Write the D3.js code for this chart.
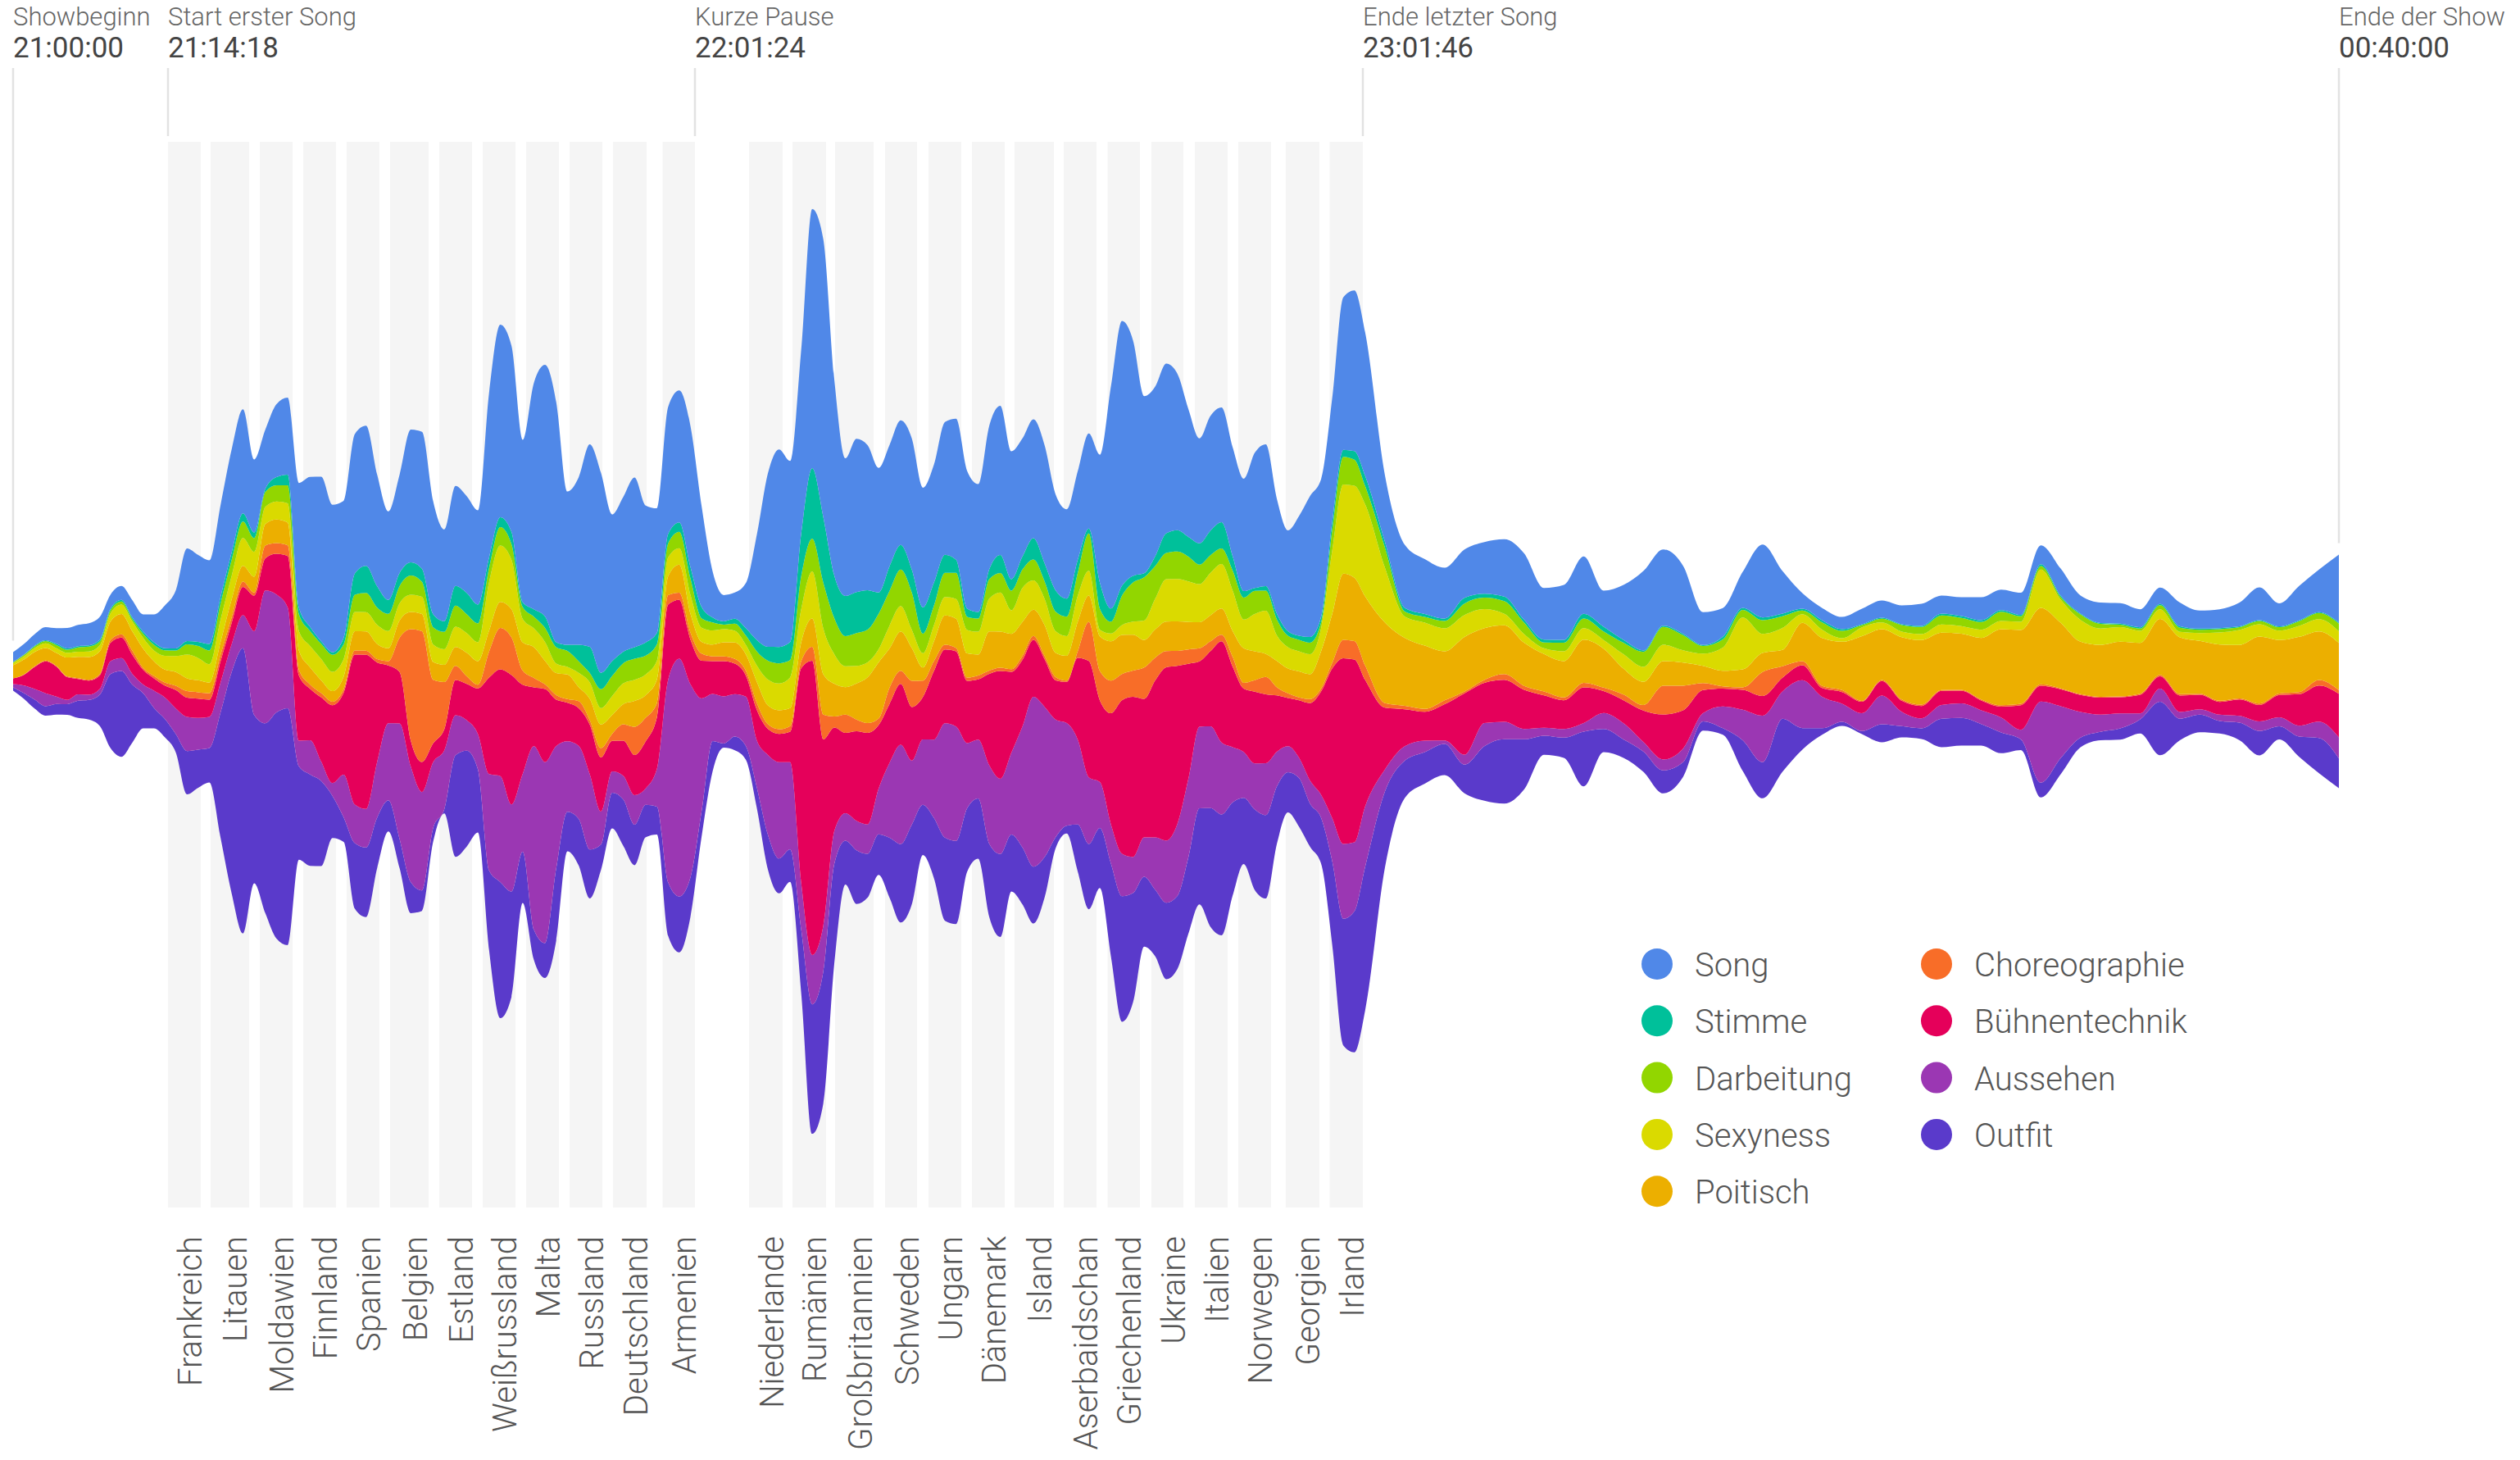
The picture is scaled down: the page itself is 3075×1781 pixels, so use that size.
<!DOCTYPE html>
<html>
<head>
<meta charset="utf-8">
<script src="https://d3js.org/d3.v7.min.js"></script>
<style>
html,body{margin:0;padding:0;background:#fff;}
svg{display:block;font-family:Roboto,"Noto Sans",sans-serif;}
</style>
</head>
<body>
<svg id="chart" width="3075" height="1781"></svg>
<script>
// ---------- DATA ----------
// sample times, minutes after 21:00
const minutes = [0,1,2,3,4,5,6,7,8,9,10,11,12,13,14,15,16,17,18,19,20,21,22,23,24,25,26,27,28,29,30,31,32,33,34,35,36,37,38,39,40,41,42,43,44,45,46,47,48,49,50,51,52,53,54,55,56,57,58,59,60,61,62,63,64,65,66,67,68,69,70,71,72,73,74,75,76,77,78,79,80,81,82,83,84,85,86,87,88,89,90,91,92,93,94,95,96,97,98,99,100,101,102,103,104,105,106,107,108,109,110,111,112,113,114,115,116,117,118,119,120,121,
122,124,126,128,130,132,134,136,138,140,142,144,146,148,150,152,154,156,158,160,162,164,166,168,170,172,174,176,178,180,182,184,186,188,190,192,194,196,198,200,202,204,206,208,210,212,214,216,218,220];

const song = [12,13,14,16,19,25,26,27,28,17,
17,21,21,34,52,71,113,106,102,112,
126,127,89,72,89,94,152,183,201,180,
167,170,171,136,108,120,162,167,138,112,
122,118,115,201,235,227,198,276,307,293,
187,204,247,244,179,189,207,167,152,155,
161,172,123,56,32,32,55,129,212,241,
221,224,316,339,239,168,187,177,152,148,
152,160,146,144,162,172,168,156,175,182,
156,144,145,144,117,109,108,116,156,271,
323,287,216,207,207,191,156,128,140,140,
133,137,165,173,140,123,146,172,168,151,
186,196,
175,81,77,67,62,59,63,70,81,63,67,70,44,67,97,93,83,40,35,44,89,52,19,15,15,19,21,23,27,22,23,28,25,27,23,33,22,25,25,22,20,29,22,23,29,40,28,42,52,83];

const stimme = [0.5,0.5,1,1,1.6,1.6,1.6,1.6,2,2,
2,2,2.6,3,2.6,2.6,4,5,8,8,
9,10,7,4,10,13,8,5,3,3,
8,26,33,26,17,16,16,16,16,13,
24,26,23,13,12,15,6,9,14,6,
7.5,20,32,20,18,14,14,16,14,11.5,
11.5,14,14,6,4,6,9,14,17,20,
22,52,86,80,52,49,50,48,26,30,
30,28,32,28,22,16,10,8,12,22,
14,16,26,22,26,22,16,6,32,16,
12,8,5,12,24,26,24,26,30,32,
17.5,8,3.5,5.6,7,5.6,5,7,7,10.5,
8.4,10.5,
12.6,7,4.2,3.5,2.8,7,4.9,5.6,3.5,3.5,3.5,5.6,5.6,3.5,1.7,1.7,1.7,1.3,3.3,2.3,3.3,3.3,2.3,2.7,2,1,1.3,1,1.3,2.3,2.3,2.3,2,1.7,2.3,1.7,1,1,1.3,1.7,1.7,1.7,1.3,1.3,1,1,1,1,1,1.3];

const darbeitung = [1,1.6,2,2.6,3.7,3.7,5.2,5.8,4.7,3.7,
3.7,3,5,7,6.8,6.8,12.6,14.6,16.7,19.9,
19.4,19.9,16.7,18.3,19.9,22,20.9,18.3,18.3,20.9,
18.3,21,23.5,21,21,21,23.5,18.3,21.2,21.2,
25.8,23,23,17.2,22.4,19,14.4,14.4,17.2,20,
19.5,14.4,11.5,23,24.7,24.7,25.8,23,20,17.2,
20,20,11.5,9.8,5.7,8.6,11.5,17.2,23,24.7,
21.2,40.2,40.2,55.8,43.9,36.7,39.9,39.9,43.1,42.3,
44.7,45.5,23.9,23.9,29.5,31.9,15.9,16,23.9,23.9,
23.9,22.3,25.5,21.5,23.9,23.9,27.9,45.5,25.5,14.4,
35.9,47.8,52.6,39.9,31.9,33.5,30.3,23.9,21.5,19.1,
24.6,26.7,28.1,24.6,19.6,14,14,14,7,24.6,
33.7,31.6,
22.5,24.6,6.3,7,9.1,14,14,15.4,14,7,10.5,11.9,10.5,14,18.3,21.7,18.3,9.3,10,9.3,16.7,14.3,4.3,9,9,2.7,4.3,8,8.7,11,10,9.3,11.3,6.7,4.3,3.3,6.7,5.7,3,2.7,5,5,4,4,3.3,4,4.3,5.7,7.3,9.3];

const sexyness = [2.5,3.7,4.7,5.8,5.8,5.8,6.3,6.8,7.3,10,
11.5,12,13,13,16.7,19.4,28.8,27.2,22.5,27.2,
28.8,34,30.3,20.9,22,23.5,23.5,26,26,23.5,
20.9,23.5,23.5,23.5,21,21,21,21,21.2,19,
24.7,24,23,59,68.9,60.3,28.7,23,23,11.5,
9.2,17.2,20,20,23,25.3,25.8,25.3,23,23,
20,23,17.2,17.2,16,14.4,11.5,20,31.6,32.7,
37.3,40.2,57.4,55.8,35.9,25.5,21.5,18.3,16,27.9,
31.1,22.3,17.5,19.9,22.3,23.9,28.7,27.9,39.9,47.8,
28.7,41.5,35.9,31.9,26.3,23.9,31.9,30.3,8,9.6,
12,15.9,23.9,37.5,51.8,51.8,49.4,46.3,51.8,54.2,
49.1,35.1,45.6,52.6,30.9,26,24.6,24.6,28.1,77.2,
108.8,112.3,
112.3,66.7,26,28.1,28.1,26.7,23.2,14,10.5,7,11.9,14,10.5,17.5,18.3,20,15,15,28.3,63.3,23.3,26.7,10.7,10,4.3,10.7,8.3,6.7,7.3,10,9.3,10,10,10,46.7,28.3,26.7,20,17.7,14.7,11.7,6.7,9.7,14.7,18.3,15,11.3,13.3,15,14];

const poitisch = [16,18.3,17.3,15.2,15.7,23,26,27.7,27.7,22.5,
24.6,23.5,23.5,18,15.7,16.7,15.7,14.6,13,15.7,
22,19.4,19.4,26.2,28.8,27.7,23.5,20.9,15.7,13,
15.7,23.5,23.5,18.3,15.7,21,21,21,21.8,21.2,
23,28.7,28.7,25.8,31.6,34.4,34.4,37.3,28.7,27,
29.9,17.2,25.8,28.7,23,24.7,31.6,27.6,28.7,23,
34.4,23,14.4,14.4,17.2,20,20,25.8,23,23,
21.8,23,34.4,49.4,39.9,33.5,43.9,55.8,68.6,47.8,
47.8,39.9,16,23.9,35.9,35.9,29.5,25.5,47.8,43.9,
43.1,41.5,31.9,37.5,29.5,30.3,35.9,31.9,42.3,47.8,
47.8,43.9,33.5,34.3,35.9,35.9,33.5,31.9,31.9,31.9,
31.6,42.1,35.1,28.1,32.3,30.2,31.6,30.2,45.6,59.6,
80.7,77.2,
84.2,98.2,82.8,77.2,59.6,66.7,63.2,59.6,52.6,45.6,44.2,52.6,47.7,31.6,28.3,30,28.3,21,19,22,23.3,20,46.7,58.3,59,79,62,76,78.7,70,68.3,75,92.7,90,93.3,80,64,63.3,66.7,62,68.3,69.3,64.3,68.7,65.3,81.7,65.3,67.3,59.3,57.7];

const choreographie = [0,0.5,1,1,1,1,1,1,1.6,3.7,
4.2,5,2.6,3,3.7,5.2,7.8,7.8,7.8,7.8,
6.8,6.3,3.7,15.7,13,13,6.8,5.2,5.2,4.2,
4.2,5.2,5.2,4.2,5.2,41.8,136,159.5,77.5,57.4,
17.2,9.2,4.6,31.6,50.5,45.9,17.2,11.5,5.7,5.7,
4.6,8.6,5.7,11.5,8.6,20,34.4,28.7,17.2,11.5,
8.6,8.6,8.6,5.7,5.7,5.7,5.7,8.6,5.7,5.7,
6.9,8.6,17.2,30.3,13.6,22.3,14.4,12,8,19.9,
16,31.9,19.9,12,5.6,4,4,4.8,4,4,
3.2,4.8,4.8,4,4,1.6,8,47.8,35.9,39.9,
31.9,31.9,38.3,27.9,19.9,18.3,17.5,15.9,12,8,
11.9,7,14,21.1,9.8,5.6,3.5,4.9,3.5,7,
22.5,22.5,
17.5,5.6,4.2,3.5,4.9,2.1,3.5,7,4.9,4.9,3.5,5.6,4.2,7,6.7,35,30,8.3,2.7,3,29.3,14,5,2.7,2.3,1,1.3,1.7,1.7,1,1,1.3,1.7,1.7,1.7,1,1,1,1,1.3,1.7,1.7,1.3,1.3,1.3,1.7,1.7,2.7,6.7,4.3];

const buehnentechnik = [7,13,27,39,36.6,27.7,18.8,17.3,16.7,22.5,
25,23.5,18,15,14.6,22.5,23.5,23.5,21,26,
26,34.5,43.4,39.2,49.7,62.8,79.5,62.8,78.5,95,
100,183,188,121,70.6,62.8,31.4,36.6,23,25.8,
43,44.2,55.7,117.7,130.3,157.9,109,71.8,89,56.3,
47,46,60.3,66,37.3,43,48.8,57.4,63.1,91.8,
71.8,54.5,46,40.2,43,37.3,25.8,37.3,31.6,34.4,
37.3,261.2,358.8,227.3,126,98,109.3,111.6,77.4,71.8,
74.2,65.4,51.8,83.7,90.1,91.7,75.8,73.4,111.6,131.6,
98.9,81.3,69.4,58.2,47.8,50.2,99.7,141.9,99.7,135.6,
187.4,195.4,169,191.4,211.3,193,140.4,79.7,91.7,123.6,
98.2,77.2,87.7,84.2,68.8,58.9,70.2,94.7,126.3,182.5,
226.7,223.2,
154.4,75.1,44.9,35.1,44.2,75.1,49.1,51.2,47.7,39.3,35.1,43.5,26.7,28.1,38.3,55,46.7,28.3,21.7,24.3,24,16.7,18.3,10.7,14.3,14,17.7,13.3,15,17.3,15.7,12,13.3,30,19.3,20.7,20.7,20.7,19.7,22.7,15,20,17.7,15.7,20,20,27.3,38.3,44,53.3];

const aussehen = [4,9.4,13,15.7,8.9,5.2,7.8,6.3,6.8,15.7,
15.7,13,10.5,21,26,31.4,41.8,38.7,38,36.6,
34,40.3,102,162,143.8,123,31.4,41.8,23.5,15.7,
52,47,47,68,94,141,141,120,80.4,71.8,
48.8,37.3,43,117.7,129.2,106.2,94.7,223.9,221,149.3,
86,89,91.8,40.2,25.8,28.7,36.2,20,45.9,246.8,
290,235.4,137.8,57.4,57.4,51.7,60.3,57.4,97.6,117.7,
106.2,57.4,60.3,55.8,39.9,33.5,35.9,35.9,55.8,91.7,
121.2,78.1,79.7,95.7,139.6,139.6,79.7,71.8,95.7,91.7,
99.7,147.5,207.3,183.4,143.5,125.2,103.7,81.3,55.8,47.8,
51.8,43.9,47.8,63.8,75.8,87.7,95.7,99.7,99.7,87.7,
67.4,56.1,56.1,63.2,42.1,31.6,24.6,28.1,28.1,52.6,
91.2,84.2,
73.7,26.7,17.5,14,4.2,11.9,28.1,21.1,12.6,9.8,10.5,10.5,19.6,19.6,11.7,13.3,16.7,10,26.7,37.3,56.7,33.3,58.3,38.3,22,21.7,35,17.7,12.3,16.7,17.7,16.7,18.3,11.7,99,63.3,31.3,21,18.3,7.3,16,8.3,6.7,7.7,8.3,11.7,11,13.3,20,25.7];

const outfit = [4,6.8,11,11.5,13,13,21,24,38,90.5,
104.6,71,43,25,22.5,22.5,52.8,46.5,42,153,
271,348,205.6,231.7,276,289,114,111.4,103.6,51.3,
30,80,85,61.7,38,35.6,38,25,16.6,5.2,
124,117,77,97,166,128.6,62.6,36.7,42.5,88.4,
48.2,56.8,59.7,31,43.6,56.8,49.4,39.6,33.9,65.4,
68.3,48.2,31,36.7,5.2,16.6,16.6,25.3,42.5,42.5,
39.6,76.9,157.9,161,121.2,53.4,65.4,53.4,49.4,73.4,
95.7,97.3,61.4,73.4,101.3,101.3,77.4,73.4,89.3,101.3,
69.4,69.4,69.4,49.4,13.6,9.6,57.4,79.7,73.4,113.2,
153.1,133.2,85.3,81.3,93.3,89.3,93.3,117.2,145.1,147.5,
113.7,80.7,98.2,101.8,70.2,49.1,59.6,52.6,56.1,101.8,
154.4,171.9,
175.4,92.6,45.6,38.6,37.9,35.1,66.7,78.6,61.1,23.2,24.6,66.7,28.1,22.5,24.7,28,18,11.3,8,37.3,44,64.7,26.3,8,5,3.7,22,13.7,13,34.7,33.7,26.3,25.3,13,18,19.7,11.7,10.3,13.7,17.3,65.3,26.3,21.3,15.3,21.3,29.7,16,24.7,43,36.3];

// songs (minutes after 21:00)
const countries = ["Frankreich","Litauen","Moldawien","Finnland","Spanien","Belgien","Estland","Weißrussland","Malta","Russland","Deutschland","Armenien","Niederlande","Rumänien","Großbritannien","Schweden","Ungarn","Dänemark","Island","Aserbaidschan","Griechenland","Ukraine","Italien","Norwegen","Georgien","Irland"];
const songStart = [14.3,18.11,22.5,26.39,30.27,34.15,38.55,42.43,46.31,50.2,54.08,58.51,66.29,70.21,74.07,78.59,82.51,86.44,90.29,94.73,98.7,102.66,106.59,110.51,114.8,118.77];
const songEnd   = [17.23,21.55,25.44,29.32,33.2,37.6,41.48,45.36,49.24,53.13,57.08,61.4,69.33,73.25,77.55,81.47,85.47,89.4,93.84,97.7,101.62,105.55,109.55,113.47,117.84,121.77];

// events
const eventLabels  = ["Showbeginn","Start erster Song","Kurze Pause","Ende letzter Song","Ende der Show"];
const eventClock   = ["21:00:00","21:14:18","22:01:24","23:01:46","00:40:00"];
const eventMinutes = [0,14.3,61.4,121.77,220];

// legend / series
const seriesNames = ["Song","Stimme","Darbeitung","Sexyness","Poitisch","Choreographie","Bühnentechnik","Aussehen","Outfit"];
const seriesColors = ["#5088e8","#00c09a","#92d600","#dada00","#ecaf00","#f86d28","#e5005a","#9b37b3","#5a3acb"];

// ---------- CHART ----------
const svg = d3.select("#chart");
svg.append("rect").attr("width",3075).attr("height",1781).attr("fill","#fff");

const valuesByName = {
  "Song": song, "Stimme": stimme, "Darbeitung": darbeitung, "Sexyness": sexyness,
  "Poitisch": poitisch, "Choreographie": choreographie, "Bühnentechnik": buehnentechnik,
  "Aussehen": aussehen, "Outfit": outfit
};
const colorOf = {};
seriesNames.forEach((n,i)=>colorOf[n]=seriesColors[i]);

const table = minutes.map((m,i)=>{
  const r = {minute:m};
  seriesNames.forEach(n=>{ r[n] = valuesByName[n][i]; });
  return r;
});

// stack bottom -> top
const keys = seriesNames.slice().reverse();
const layers = d3.stack().keys(keys)
  .order(d3.stackOrderNone)
  .offset(d3.stackOffsetSilhouette)(table);

const x = d3.scaleLinear().domain(eventMinutes).range([16,205,848,1663,2854]);
const yCenter = 819;
const y = d3.scaleLinear().domain([-700,700]).range([yCenter+700, yCenter-700]);

// song bands
const bandTop = 173, bandBottom = 1473;
svg.append("g").selectAll("rect").data(countries).join("rect")
  .attr("x",(d,i)=>x(songStart[i]))
  .attr("width",(d,i)=>x(songEnd[i])-x(songStart[i]))
  .attr("y",bandTop).attr("height",bandBottom-bandTop)
  .attr("fill","#f5f5f5");

// event lines: stop above the song bands, or just above the stream
const topLayer = layers[layers.length-1];
function streamTopAt(m){
  const i = d3.bisector(d=>d.data.minute).left(topLayer, m);
  if (i<=0) return y(topLayer[0][1]);
  if (i>=topLayer.length) return y(topLayer[topLayer.length-1][1]);
  const a = topLayer[i-1], b = topLayer[i];
  const t = (m-a.data.minute)/(b.data.minute-a.data.minute);
  return y(a[1] + (b[1]-a[1])*t);
}
function touchesBand(m){
  return songStart.some((s,i)=> m >= s-0.05 && m <= songEnd[i]+0.05);
}
const ev = svg.append("g");
ev.selectAll("line").data(eventMinutes).join("line")
  .attr("x1",d=>x(d)).attr("x2",d=>x(d))
  .attr("y1",83)
  .attr("y2",d=> touchesBand(d) ? bandTop-7 : streamTopAt(d)-14)
  .attr("stroke","#e2e2e2").attr("stroke-width",2.5);
ev.selectAll("text.lab").data(eventLabels).join("text").attr("class","lab")
  .attr("x",(d,i)=>x(eventMinutes[i])).attr("y",31)
  .attr("font-size",31).attr("font-weight",300).attr("fill","#666")
  .text(d=>d);
ev.selectAll("text.clk").data(eventClock).join("text").attr("class","clk")
  .attr("x",(d,i)=>x(eventMinutes[i])).attr("y",70)
  .attr("font-size",35).attr("font-weight",400).attr("fill","#444")
  .text(d=>d);

// stream
const area = d3.area()
  .x(d=>x(d.data.minute))
  .y0(d=>y(d[0]))
  .y1(d=>y(d[1]))
  .curve(d3.curveMonotoneX);
svg.append("g").selectAll("path").data(layers).join("path")
  .attr("d",area)
  .attr("fill",d=>colorOf[d.key]);

// country labels
svg.append("g").selectAll("text").data(countries).join("text")
  .attr("transform",(d,i)=>`translate(${(x(songStart[i])+x(songEnd[i]))/2+21},1508) rotate(-90)`)
  .attr("text-anchor","end")
  .attr("font-size",40).attr("font-weight",300).attr("fill","#555")
  .text(d=>d);

// legend
const lg = svg.append("g");
const lgItems = lg.selectAll("g").data(seriesNames).join("g")
  .attr("transform",(d,i)=>{
    const col = i<5?0:1, row = i<5?i:i-5;
    return `translate(${col===0?2022:2363},${1176+row*69.3})`;
  });
lgItems.append("circle").attr("r",19).attr("fill",(d,i)=>seriesColors[i]);
lgItems.append("text").attr("x",46).attr("y",15)
  .attr("font-size",40).attr("font-weight",300).attr("fill","#555")
  .text(d=>d);
</script>
</body>
</html>
